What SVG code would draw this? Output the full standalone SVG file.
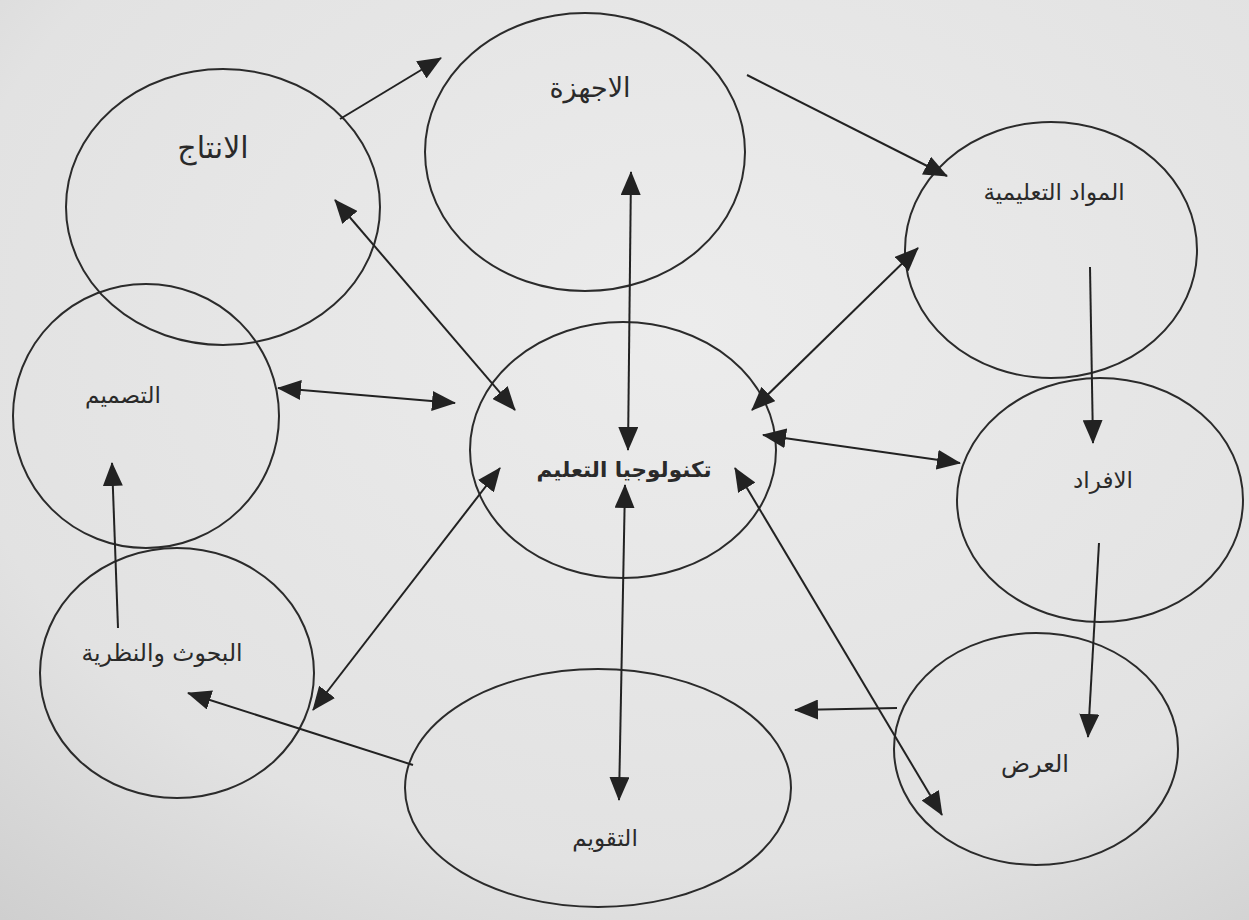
<svg xmlns="http://www.w3.org/2000/svg" width="1249" height="920" viewBox="0 0 1249 920">
<defs>
<radialGradient id="bg" cx="0.55" cy="0.35" r="0.85">
<stop offset="0" stop-color="#ececec"/>
<stop offset="0.7" stop-color="#e2e2e2"/>
<stop offset="1" stop-color="#cfcfcf"/>
</radialGradient>
<marker id="ah" viewBox="0 0 24 20" refX="23" refY="10" markerWidth="24" markerHeight="20" markerUnits="userSpaceOnUse" orient="auto-start-reverse">
<path d="M0,0 L24,10 L0,20 Z" fill="#222"/>
</marker>
</defs>
<style>
.node ellipse{fill:none;stroke:#2b2b2b;stroke-width:2}
.lbl{font-family:"DejaVu Sans",sans-serif;fill:#2a2a2a;text-anchor:middle}
.conn line{stroke:#222;stroke-width:2}
.one{marker-end:url(#ah)}
.two{marker-start:url(#ah);marker-end:url(#ah)}
</style>
<rect width="1249" height="920" fill="url(#bg)"/>
<g id="n-production" class="node"><ellipse cx="223" cy="207" rx="157" ry="138"/><text class="lbl" x="213" y="158" font-size="30">الانتاج</text></g>
<g id="n-devices" class="node"><ellipse cx="585" cy="152" rx="160" ry="139"/><text class="lbl" x="590" y="97" font-size="27">الاجهزة</text></g>
<g id="n-materials" class="node"><ellipse cx="1051" cy="250" rx="146" ry="128"/><text class="lbl" x="1054" y="200" font-size="23">المواد التعليمية</text></g>
<g id="n-design" class="node"><ellipse cx="146" cy="416" rx="133" ry="132"/><text class="lbl" x="123" y="403" font-size="23">التصميم</text></g>
<g id="n-tech" class="node"><ellipse cx="623" cy="450" rx="153" ry="128"/><text class="lbl" x="624" y="477" font-size="21.5" font-weight="bold">تكنولوجيا التعليم</text></g>
<g id="n-people" class="node"><ellipse cx="1100" cy="500" rx="143" ry="122"/><text class="lbl" x="1103" y="488" font-size="23">الافراد</text></g>
<g id="n-research" class="node"><ellipse cx="177" cy="673" rx="137" ry="125"/><text class="lbl" x="162" y="661" font-size="23.5">البحوث والنظرية</text></g>
<g id="n-evaluation" class="node"><ellipse cx="598" cy="788" rx="193" ry="119"/><text class="lbl" x="605" y="846" font-size="23">التقويم</text></g>
<g id="n-display" class="node"><ellipse cx="1036" cy="749" rx="142" ry="116"/><text class="lbl" x="1035" y="772" font-size="24">العرض</text></g>
<g id="connectors" class="conn">
<line class="one" x1="340" y1="119" x2="441" y2="58"/>
<line class="one" x1="747" y1="75" x2="947" y2="176"/>
<line class="one" x1="1090" y1="267" x2="1093" y2="443"/>
<line class="one" x1="1099" y1="543" x2="1088" y2="737"/>
<line class="one" x1="897" y1="708" x2="795" y2="710"/>
<line class="one" x1="413" y1="765" x2="188" y2="693"/>
<line class="one" x1="118" y1="628" x2="112" y2="463"/>
<line class="two" x1="335" y1="200" x2="515" y2="410"/>
<line class="two" x1="631" y1="172" x2="628" y2="450"/>
<line class="two" x1="918" y1="248" x2="752" y2="410"/>
<line class="two" x1="763" y1="435" x2="960" y2="463"/>
<line class="two" x1="735" y1="468" x2="942" y2="815"/>
<line class="two" x1="625" y1="485" x2="619" y2="800"/>
<line class="two" x1="500" y1="468" x2="313" y2="710"/>
<line class="two" x1="278" y1="388" x2="455" y2="403"/>
</g>
</svg>
